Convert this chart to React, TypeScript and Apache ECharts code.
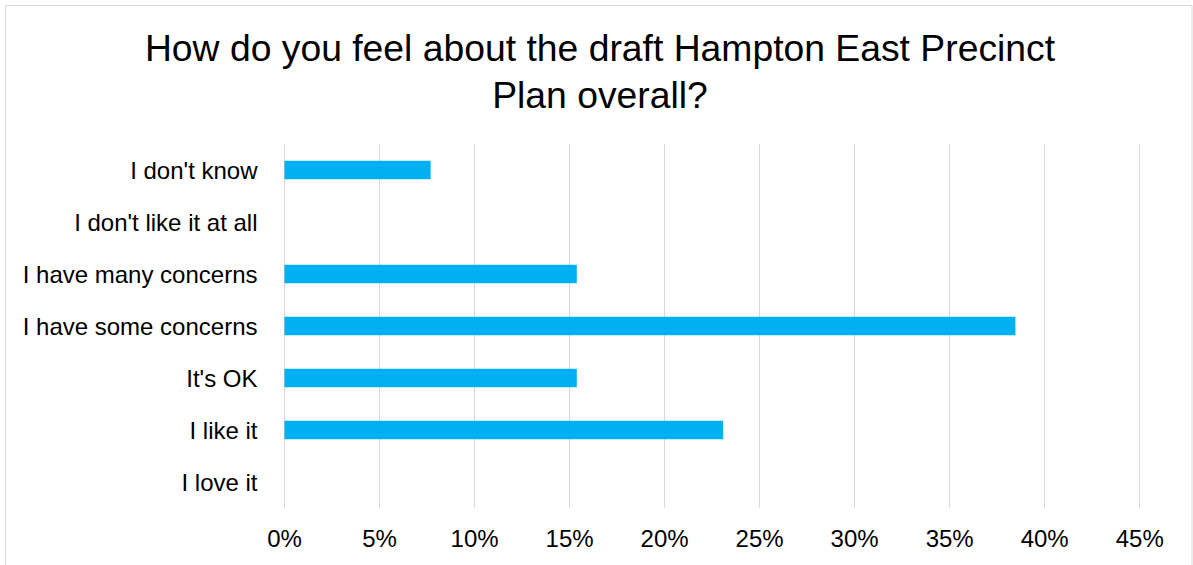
import React, { useEffect, useRef } from "react";
import * as echarts from "echarts";

const categories = [
  "I don't know",
  "I don't like it at all",
  "I have many concerns",
  "I have some concerns",
  "It's OK",
  "I like it",
  "I love it",
];
const percentValues = [7.69, 0, 15.38, 38.46, 15.38, 23.08, 0];
const titleText = "How do you feel about the draft Hampton East Precinct\nPlan overall?";
const axisMax = 45;
const axisStep = 5;

const FONT = "'Liberation Sans', Arial, sans-serif";

export default function App() {
  const ref = useRef<HTMLDivElement>(null);
  useEffect(() => {
    if (!ref.current) return;
    const chart = echarts.init(ref.current, undefined, { renderer: "svg" });
    chart.setOption({
      animation: false,
      backgroundColor: "#ffffff",
      textStyle: { fontFamily: FONT },
      title: {
        text: titleText,
        left: 600,
        top: 24.5,
        padding: 0,
        textAlign: "center",
        textStyle: {
          fontFamily: FONT,
          fontSize: 37.3,
          fontWeight: "normal",
          lineHeight: 47,
          color: "#000000",
        },
      },
      graphic: [
        {
          type: "rect",
          shape: { x: 5.5, y: 5.5, width: 1186.5, height: 600 },
          style: { fill: "none", stroke: "#D9D9D9", lineWidth: 1 },
          silent: true,
          z: -10,
        },
      ],
      grid: { left: 284.5, right: 53.3, top: 144, bottom: 57, containLabel: false },
      xAxis: {
        type: "value",
        min: 0,
        max: axisMax,
        interval: axisStep,
        axisLine: { show: false },
        axisTick: { show: false },
        splitLine: { show: true, lineStyle: { color: "#D9D9D9", width: 1 } },
        axisLabel: {
          formatter: "{value}%",
          fontFamily: FONT,
          fontSize: 24,
          lineHeight: 24,
          color: "#000000",
          margin: 18,
        },
      },
      yAxis: {
        type: "category",
        data: categories,
        inverse: true,
        axisLine: { show: false },
        axisTick: { show: false },
        splitLine: { show: false },
        axisLabel: {
          fontFamily: FONT,
          fontSize: 24,
          color: "#000000",
          margin: 27,
        },
      },
      series: [
        {
          type: "bar",
          data: percentValues,
          barWidth: 18.5,
          itemStyle: { color: "#00B0F0" },
        },
      ],
    });
    return () => chart.dispose();
  }, []);
  return (
    <div
      ref={ref}
      style={{ position: "absolute", left: 0, top: 0, width: 1193, height: 565 }}
    />
  );
}
